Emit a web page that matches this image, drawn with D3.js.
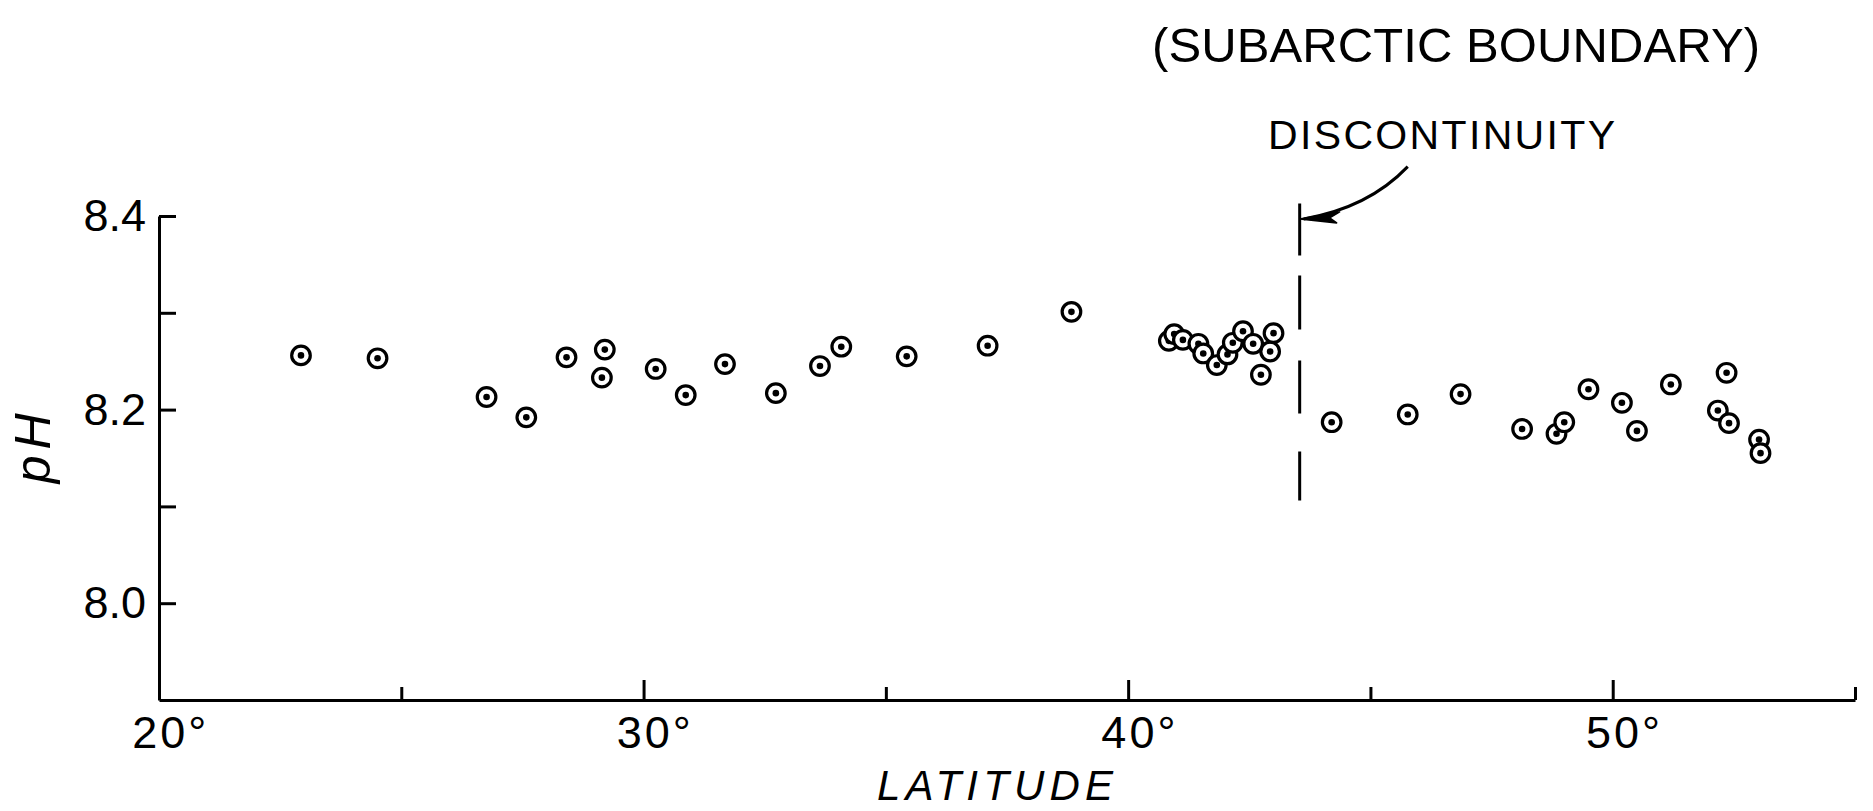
<!DOCTYPE html>
<html lang="en">

<head>
    <meta charset="UTF-8">
    <title>pH vs Latitude</title>
    <script src="https://d3js.org/d3.v7.min.js"></script>
    <style>
        body { margin: 0; background: #fff; }
        text { font-family: "Liberation Sans", Arial, sans-serif; fill: #000; }
    </style>
</head>

<body>
    <div id="chart"></div>

    <script>
        // Data (latitude in degrees N, surface pH)
        const latitude = [
            22.93, 24.51, 26.76, 27.58, 28.41, 29.20, 29.14, 30.25, 30.87, 31.68,
            32.73, 33.64, 34.08, 35.43, 37.10, 38.83,
            40.84, 40.95, 41.13, 41.45, 41.55, 41.83, 42.05, 42.16, 42.37, 42.58,
            42.74, 42.93, 43.00,
            44.20, 45.77, 46.86, 48.13, 48.84, 49.00, 49.50, 50.19, 50.50, 51.20,
            52.17, 52.35, 52.40, 53.02, 53.05
        ];
        const ph = [
            8.256, 8.253, 8.213, 8.192, 8.254, 8.262, 8.233, 8.242, 8.215, 8.247,
            8.217, 8.245, 8.265, 8.255, 8.266, 8.301,
            8.271, 8.278, 8.272, 8.268, 8.258, 8.246, 8.257, 8.269, 8.281, 8.268,
            8.236, 8.260, 8.279,
            8.187, 8.195, 8.216, 8.180, 8.175, 8.187, 8.221, 8.207, 8.178, 8.226,
            8.199, 8.238, 8.186, 8.169, 8.155
        ];

        // Axis ticks
        const xTicks = [20, 25, 30, 35, 40, 45, 50, 55];
        const xLabelled = [20, 30, 40, 50];
        const yTicks = [8.0, 8.1, 8.2, 8.3, 8.4];
        const yLabelled = [8.0, 8.2, 8.4];

        // Discontinuity marker (subarctic boundary)
        const boundaryLat = 43.54;
        const boundaryRange = [8.413, 8.106];
        // arrow from the label down to the boundary line: [lat, pH]
        const arrowStart = [45.77, 8.451];
        const arrowControl = [44.96, 8.4085];
        const arrowTip = [43.54, 8.397];

        const width = 1873, height = 811;

        const x = d3.scaleLinear().domain([20, 55]).range([159, 1855]);
        const y = d3.scaleLinear().domain([7.9, 8.4]).range([700, 216]);

        const svg = d3.select("#chart")
            .append("svg")
            .attr("width", width)
            .attr("height", height);

        // Y axis, ticks pointing inwards
        const yAxis = svg.append("g")
            .attr("transform", "translate(" + x(20) + ",0)")
            .call(d3.axisLeft(y)
                .tickValues(yTicks)
                .tickSizeInner(-17)
                .tickSizeOuter(0)
                .tickPadding(13)
                .tickFormat(d => yLabelled.some(v => Math.abs(v - d) < 1e-9) ? d.toFixed(1) : ""));

        // X axis, ticks pointing up
        const xAxis = svg.append("g")
            .attr("transform", "translate(0," + y(7.9) + ")")
            .call(d3.axisBottom(x)
                .tickValues(xTicks)
                .tickSizeInner(-20)
                .tickSizeOuter(0)
                .tickPadding(16)
                .tickFormat(d => xLabelled.includes(d) ? d + "°" : ""));

        xAxis.selectAll(".tick line").attr("y2", d => xLabelled.includes(d) ? -20 : -13);
        xAxis.selectAll(".tick text").attr("dx", "0.25em").attr("letter-spacing", 3);

        [xAxis, yAxis].forEach(a => {
            a.select(".domain").attr("stroke", "#000").attr("stroke-width", 3);
            a.selectAll(".tick line").attr("stroke", "#000").attr("stroke-width", 3);
            a.selectAll(".tick text")
                .attr("font-family", "Liberation Sans, Arial, sans-serif")
                .attr("font-size", 45)
                .attr("fill", "#000");
        });

        // Axis titles
        svg.append("text")
            .attr("x", 995)
            .attr("y", 800)
            .attr("text-anchor", "middle")
            .attr("font-size", 42)
            .attr("font-style", "italic")
            .attr("textLength", 236)
            .attr("lengthAdjust", "spacing")
            .text("LATITUDE");

        svg.append("text")
            .attr("transform", "translate(50," + y(8.16) + ") rotate(-90)")
            .attr("text-anchor", "middle")
            .attr("font-size", 50)
            .attr("font-style", "italic")
            .attr("textLength", 70)
            .attr("lengthAdjust", "spacing")
            .text("pH");

        // Boundary: dashed vertical line
        svg.append("line")
            .attr("x1", x(boundaryLat)).attr("x2", x(boundaryLat))
            .attr("y1", y(boundaryRange[0])).attr("y2", y(boundaryRange[1]))
            .attr("stroke", "#000")
            .attr("stroke-width", 3)
            .attr("stroke-dasharray", "52,20,54,31,53,38,49,100");

        // curved arrow pointing at the boundary
        const arrowPath = d3.path();
        arrowPath.moveTo(x(arrowStart[0]), y(arrowStart[1]));
        arrowPath.quadraticCurveTo(x(arrowControl[0]), y(arrowControl[1]), x(arrowTip[0]) + 4, y(arrowTip[1]));
        svg.append("path")
            .attr("d", arrowPath.toString())
            .attr("fill", "none")
            .attr("stroke", "#000")
            .attr("stroke-width", 3);

        const tx = x(arrowTip[0]), ty = y(arrowTip[1]);
        svg.append("path")
            .attr("d", "M" + tx + "," + ty + " L" + (tx + 40) + "," + (ty - 7) +
                " L" + (tx + 30) + "," + (ty - 1) + " L" + (tx + 37) + "," + (ty + 4) + " Z")
            .attr("fill", "#000")
            .attr("stroke", "#000")
            .attr("stroke-width", 1.5)
            .attr("stroke-linejoin", "round");

        svg.append("text")
            .attr("x", 1268)
            .attr("y", 149)
            .attr("font-size", 41)
            .attr("textLength", 347)
            .attr("lengthAdjust", "spacing")
            .text("DISCONTINUITY");

        svg.append("text")
            .attr("x", 1152)
            .attr("y", 62)
            .attr("font-size", 49)
            .attr("textLength", 608)
            .attr("lengthAdjust", "spacing")
            .text("(SUBARCTIC  BOUNDARY)");

        // Points: open circle with a centre dot
        const points = latitude.map((lat, i) => ({ lat: lat, ph: ph[i] }));

        const marks = svg.append("g")
            .selectAll("g")
            .data(points)
            .join("g")
            .attr("transform", d => "translate(" + x(d.lat) + "," + y(d.ph) + ")");

        marks.append("circle")
            .attr("r", 9.3)
            .attr("fill", "#fff")
            .attr("stroke", "#000")
            .attr("stroke-width", 3.2);

        marks.append("circle")
            .attr("r", 3.3)
            .attr("fill", "#000");
    </script>
</body>

</html>
